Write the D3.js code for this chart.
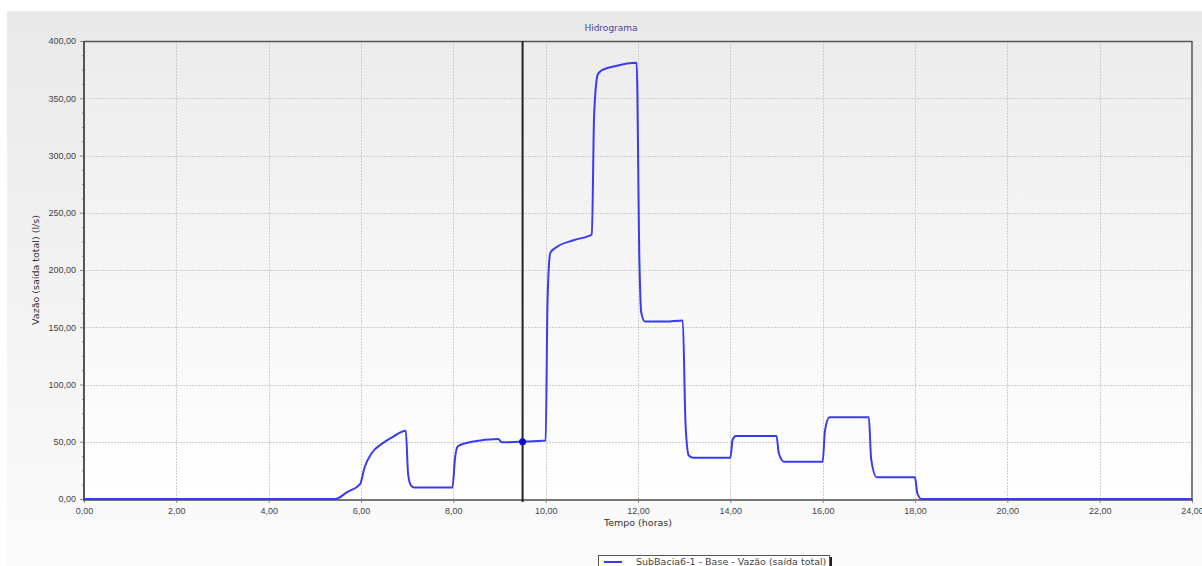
<!DOCTYPE html>
<html>
<head>
<meta charset="utf-8">
<script src="https://cdn.jsdelivr.net/npm/d3@7"></script>
<style>
  html, body { margin: 0; padding: 0; background: #ffffff; }
  svg { display: block; font-family: "DejaVu Sans", Verdana, sans-serif; }
</style>
</head>
<body>
<svg id="chart" width="1202" height="566"></svg>
<script>
// Hydrograph: total outflow of sub-basin 6-1 over 24 hours
const hours = [0, 5.44, 5.7, 5.98, 6.08, 6.23, 6.48, 6.7, 6.97, 7.02, 7.08, 7.16, 7.98, 8.04, 8.1, 8.2, 8.4, 8.97, 9.05, 9.5, 10.0,
  10.04, 10.1, 10.2, 10.6, 11.0, 11.05, 11.13, 11.2, 11.5, 11.97, 12.03, 12.07, 12.15, 12.6, 12.97,
  13.03, 13.1, 13.2, 14.0, 14.05, 14.12, 15.0, 15.05, 15.17, 16.0, 16.05, 16.15, 17.0, 17.05, 17.17,
  18.0, 18.05, 18.14, 24];
const flow = [0, 0, 6, 13, 28, 40, 49, 54.5, 59.5, 22, 12, 10, 10, 37, 46, 48, 50, 52.5, 49.5, 50, 51,
  172, 215, 219, 226, 231, 336, 371, 374, 378, 381, 209, 163, 155, 155, 156,
  65, 38, 36, 36, 52, 55, 55, 40, 32.5, 32.5, 60, 71.5, 71.5, 35, 19,
  19, 5, 0, 0];

const xTicks = [0, 2, 4, 6, 8, 10, 12, 14, 16, 18, 20, 22, 24];
const yTicks = [0, 50, 100, 150, 200, 250, 300, 350, 400];
const cursorHour = 9.5;
const cursorFlow = 50;

const title = "Hidrograma";
const xLabel = "Tempo (horas)";
const yLabel = "Vazão (saída total) (l/s)";
const seriesName = "SubBacia6-1 - Base - Vazão (saída total)";

const fmt = v => d3.format(".2f")(v).replace(".", ",");

const svg = d3.select("#chart");
const W = 1202, H = 566;
const m = { left: 84, top: 41 };
const pw = 1192 - m.left, ph = 499 - m.top;

const defs = svg.append("defs");
const panelGrad = defs.append("linearGradient").attr("id", "panelGrad").attr("x1", 0).attr("y1", 0).attr("x2", 0).attr("y2", 1);
panelGrad.append("stop").attr("offset", "0%").attr("stop-color", "#e9e9e9");
panelGrad.append("stop").attr("offset", "100%").attr("stop-color", "#fbfbfb");
const plotGrad = defs.append("linearGradient").attr("id", "plotGrad").attr("x1", 0).attr("y1", 0).attr("x2", 0).attr("y2", 1);
plotGrad.append("stop").attr("offset", "0%").attr("stop-color", "#ececec");
plotGrad.append("stop").attr("offset", "100%").attr("stop-color", "#ffffff");

// outer panel
svg.append("rect").attr("x", 7).attr("y", 11).attr("width", W - 7).attr("height", H - 11).attr("fill", "url(#panelGrad)");

const x = d3.scaleLinear().domain([0, 24]).range([m.left, m.left + pw]);
const y = d3.scaleLinear().domain([0, 400]).range([m.top + ph, m.top]);

// plot area
svg.append("rect").attr("x", m.left).attr("y", m.top).attr("width", pw).attr("height", ph).attr("fill", "url(#plotGrad)");

// grid
const grid = svg.append("g").attr("stroke", "#cfcfcf").attr("stroke-width", 1).attr("stroke-dasharray", "2,1");
grid.selectAll(".gx").data(xTicks.slice(1, -1)).join("line")
  .attr("x1", d => Math.round(x(d)) + 0.5).attr("x2", d => Math.round(x(d)) + 0.5)
  .attr("y1", m.top).attr("y2", m.top + ph);
grid.selectAll(".gy").data(yTicks.slice(1, -1)).join("line")
  .attr("y1", d => Math.round(y(d)) + 0.5).attr("y2", d => Math.round(y(d)) + 0.5)
  .attr("x1", m.left).attr("x2", m.left + pw);

// axes
const xAxis = svg.append("g").attr("transform", `translate(0,${m.top + ph})`)
  .call(d3.axisBottom(x).tickValues(xTicks).tickFormat(fmt).tickSize(4).tickPadding(3));
const xMinor = svg.append("g").attr("transform", `translate(0,${m.top + ph})`)
  .call(d3.axisBottom(x).tickValues(d3.range(0, 24.01, 0.5).filter(v => v % 2 !== 0)).tickFormat("").tickSize(2));
const yAxis = svg.append("g").attr("transform", `translate(${m.left},0)`)
  .call(d3.axisLeft(y).tickValues(yTicks).tickFormat(fmt).tickSize(4).tickPadding(4));
const yMinor = svg.append("g").attr("transform", `translate(${m.left},0)`)
  .call(d3.axisLeft(y).tickValues(d3.range(0, 400.1, 12.5).filter(v => v % 50 !== 0)).tickFormat("").tickSize(2));
[xAxis, yAxis, xMinor, yMinor].forEach(g => {
  g.select(".domain").remove();
  g.selectAll(".tick line").attr("stroke", "#8a8a8a");
  g.selectAll("text").attr("fill", "#444").attr("font-size", 9);
});
xAxis.selectAll("text").attr("dy", "0.9em");

// frame
svg.append("line").attr("x1", m.left).attr("x2", m.left + pw).attr("y1", m.top + 0.5).attr("y2", m.top + 0.5)
  .attr("stroke", "#555").attr("stroke-width", 1.5);
svg.append("line").attr("x1", m.left).attr("x2", m.left + pw).attr("y1", m.top + ph + 1).attr("y2", m.top + ph + 1)
  .attr("stroke", "#777").attr("stroke-width", 2);
svg.append("line").attr("x1", m.left + pw).attr("x2", m.left + pw).attr("y1", m.top).attr("y2", m.top + ph + 2)
  .attr("stroke", "#555").attr("stroke-width", 1.5);
svg.append("line").attr("x1", m.left).attr("x2", m.left).attr("y1", m.top).attr("y2", m.top + ph + 2)
  .attr("stroke", "#555").attr("stroke-width", 2);

// series
const line = d3.line().x((d, i) => x(hours[i])).y(d => y(d)).curve(d3.curveMonotoneX);
svg.append("path").datum(flow).attr("d", line)
  .attr("fill", "none").attr("stroke", "#3a3af0").attr("stroke-width", 2).attr("stroke-linejoin", "round");

// cursor
svg.append("line").attr("x1", x(cursorHour)).attr("x2", x(cursorHour)).attr("y1", m.top).attr("y2", m.top + ph + 3)
  .attr("stroke", "#222").attr("stroke-width", 2);
svg.append("circle").attr("cx", x(cursorHour)).attr("cy", y(cursorFlow)).attr("r", 3.5).attr("fill", "#1010c8");

// texts
svg.append("text").attr("x", 611).attr("y", 31).attr("text-anchor", "middle")
  .attr("font-size", 9).attr("fill", "#4a44a8").text(title);
svg.append("text").attr("x", 638).attr("y", 526).attr("text-anchor", "middle")
  .attr("font-size", 9.5).attr("fill", "#333").text(xLabel);
svg.append("text").attr("transform", `translate(39,${m.top + ph / 2}) rotate(-90)`).attr("text-anchor", "middle")
  .attr("font-size", 9.5).attr("fill", "#333").text(yLabel);

// legend
const lg = svg.append("g");
lg.append("rect").attr("x", 600).attr("y", 557).attr("width", 232).attr("height", 14).attr("fill", "#222");
lg.append("rect").attr("x", 598.5).attr("y", 555.5).attr("width", 231).attr("height", 14)
  .attr("fill", "#ffffff").attr("stroke", "#555");
lg.append("line").attr("x1", 604).attr("x2", 622).attr("y1", 562).attr("y2", 562).attr("stroke", "#3a3af0").attr("stroke-width", 2);
lg.append("text").attr("x", 636).attr("y", 565).attr("font-size", 9.5).attr("fill", "#444").text(seriesName);
</script>
</body>
</html>
